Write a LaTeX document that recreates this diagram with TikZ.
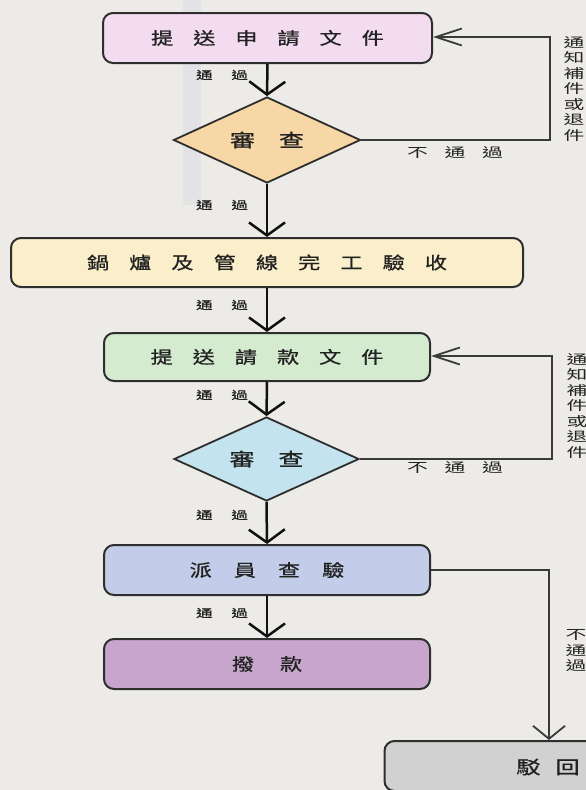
\documentclass[tikz,border=0pt]{standalone}
\usepackage{fontspec}
\setmainfont{Noto Sans CJK TC}[FakeBold=0.8]
\newfontfamily\lightf{Noto Sans CJK TC}
\usepackage{graphicx}
\usetikzlibrary{shapes.geometric,arrows.meta}
\definecolor{bg}{HTML}{EDEBE8}
\definecolor{bandc}{HTML}{E3E3E6}
\definecolor{linec}{HTML}{2E2E2E}
\definecolor{flowc}{HTML}{111111}
\definecolor{loopc}{HTML}{3A3A3A}
\definecolor{textc}{HTML}{222222}
\definecolor{c1}{HTML}{F3DCEF}
\definecolor{d1}{HTML}{F8D7A6}
\definecolor{c2}{HTML}{FAEFCA}
\definecolor{c3}{HTML}{D4EBCF}
\definecolor{d2}{HTML}{C3E3EE}
\definecolor{c4}{HTML}{C3CCE8}
\definecolor{c5}{HTML}{C8A5CC}
\definecolor{c6}{HTML}{D1D1D1}
\newcommand\wx[2]{\scalebox{#1}[1]{#2}}
\newcommand\vt[1]{\scalebox{1.6}[1]{#1}}
\begin{document}
\begin{tikzpicture}[x=1pt,y=-1pt,
  box/.style={draw=linec, line width=2pt, rounded corners=10pt, minimum width=326pt,
    minimum height=50pt, inner sep=0pt, text=textc, font=\fontsize{17}{20}\selectfont},
  dia/.style={diamond, draw=linec, line width=1.8pt, minimum width=187pt, minimum height=86pt,
    aspect=2.17, inner sep=0pt, text=textc, font=\fontsize{18}{20}\selectfont},
  flow/.style={draw=flowc, line width=2.5pt, -{Straight Barb[length=13pt,width=36pt]}},
  back/.style={draw=loopc, line width=1.8pt, -{Straight Barb[length=26pt,width=17pt]}},
  lab/.style={text=textc, font=\fontsize{11}{12}\selectfont, inner sep=0pt},
  nlab/.style={text=textc, font=\lightf\fontsize{13}{14}\selectfont, inner sep=0pt},
  vlab/.style={text=textc, font=\lightf\fontsize{13}{15.5}\selectfont, inner sep=0pt, align=center}]
\useasboundingbox (0,0) rectangle (586,790);
\clip (0,0) rectangle (586,790);
\fill[bg] (0,0) rectangle (586,790);
\fill[bandc] (183,0) rectangle (201,205);

% nodes
\node[box, fill=c1, minimum width=329pt] (b1) at (267.5,38)
  {\wx{1.3}{提\hspace{15.4pt}送\hspace{15.4pt}申\hspace{15.4pt}請\hspace{15.4pt}文\hspace{15.4pt}件}};
\node[dia, fill=d1] (r1) at (267,140)
  {\wx{1.4}{審\hspace{17pt}查}};
\node[box, fill=c2, minimum width=512pt, minimum height=49pt] (b2) at (267,262.5)
  {\wx{1.3}{鍋\hspace{15.5pt}爐\hspace{15.5pt}及\hspace{15.5pt}管\hspace{15.5pt}線\hspace{15.5pt}完\hspace{15.5pt}工\hspace{15.5pt}驗\hspace{15.5pt}收}};
\node[box, fill=c3, minimum height=48pt] (b3) at (267,357)
  {\wx{1.3}{提\hspace{15.4pt}送\hspace{15.4pt}請\hspace{15.4pt}款\hspace{15.4pt}文\hspace{15.4pt}件}};
\node[dia, fill=d2, minimum width=185pt, minimum height=84pt] (r2) at (266.5,459)
  {\wx{1.4}{審\hspace{17pt}查}};
\node[box, fill=c4] (b4) at (267,570)
  {\wx{1.3}{派\hspace{17pt}員\hspace{17pt}查\hspace{17pt}驗}};
\node[box, fill=c5] (b5) at (267,664)
  {\wx{1.3}{撥\hspace{20pt}款}};
\node[box, fill=c6, minimum width=329pt] (b6) at (549,766) {};
\node[text=textc, font=\fontsize{18}{20}\selectfont, inner sep=0pt] (t6) at (548,767)
  {\wx{1.35}{駁\hspace{11pt}回}};

% labels
\node[lab] (p1) at (222,75) {\wx{1.5}{通\hspace{12.5pt}過}};
\node[lab] (p2) at (222,205) {\wx{1.5}{通\hspace{12.5pt}過}};
\node[lab] (p3) at (222,305) {\wx{1.5}{通\hspace{12.5pt}過}};
\node[lab] (p4) at (222,395) {\wx{1.5}{通\hspace{12.5pt}過}};
\node[lab] (p5) at (222,515) {\wx{1.5}{通\hspace{12.5pt}過}};
\node[lab] (p6) at (222,613) {\wx{1.5}{通\hspace{12.5pt}過}};
\node[nlab] (n1) at (455,153) {\wx{1.6}{不\hspace{10.5pt}通\hspace{10.5pt}過}};
\node[nlab] (n2) at (455,468) {\wx{1.6}{不\hspace{10.5pt}通\hspace{10.5pt}過}};
\node[vlab] (v1) at (574,89) {\vt{通}\\\vt{知}\\\vt{補}\\\vt{件}\\\vt{或}\\\vt{退}\\\vt{件}};
\node[vlab] (v2) at (577,406) {\vt{通}\\\vt{知}\\\vt{補}\\\vt{件}\\\vt{或}\\\vt{退}\\\vt{件}};
\node[vlab] (v3) at (576,651) {\vt{不}\\\vt{通}\\\vt{過}};

% connectors
\draw[flow] (b1.south) -- (r1.north);
\draw[flow] (r1.south) -- (b2.north);
\draw[flow] (b2.south) -- (b3.north);
\draw[flow] (b3.south) -- (r2.north);
\draw[flow] (r2.south) -- (b4.north);
\draw[flow] (b4.south) -- (b5.north);

\coordinate (k1) at (550,37);
\coordinate (k2) at (552,356);
\coordinate (k3) at (549,570);
\draw[back] (r1.east) -- (r1.east -| k1) -- (k1) -- (k1 -| b1.east);
\draw[back] (r2.east) -- (r2.east -| k2) -- (k2) -- (k2 -| b3.east);
\draw[back, -{Straight Barb[length=13pt,width=32pt]}] (b4.east) -- (k3) -- (b6.north);
\end{tikzpicture}
\end{document}
